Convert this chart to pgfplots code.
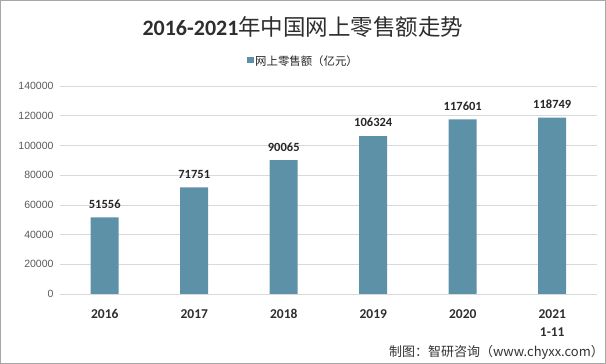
\documentclass[border=0pt]{standalone}
\usepackage{pgfplots}
\pgfplotsset{compat=1.18}
\usepackage{fontspec}
\setmainfont{Liberation Sans}
\newfontfamily\cjk{Noto Sans CJK SC}
\newfontfamily\carl{Carlito}
\definecolor{barc}{RGB}{93,145,167}
\definecolor{gridc}{RGB}{217,217,217}
\definecolor{tickc}{RGB}{89,89,89}
\begin{document}
\begin{tikzpicture}
\useasboundingbox (0pt,0pt) rectangle (606pt,364pt);
\draw[draw=gray!70,line width=1pt] (0.5pt,0.5pt) rectangle (605.5pt,363.5pt);
\node[text=black!82,inner sep=0pt] at (303pt,337pt) {\carl\bfseries\fontsize{22}{24}\selectfont 2016-2021\cjk\mdseries\fontsize{22.5}{24}\selectfont 年中国网上零售额走势};
\fill[barc] (247pt,301pt) rectangle (254pt,307pt);
\node[anchor=west,font=\cjk\fontsize{11.4}{12}\selectfont,text=black!85,inner sep=0pt] at (255pt,303pt) {网上零售额（亿元）};
\node[anchor=east,font=\cjk\fontsize{13}{14}\selectfont,text=black!80,inner sep=0pt] at (604pt,12pt) {制图：智研咨询（www.chyxx.com）};
\begin{axis}[
  at={(60pt,70pt)}, anchor=south west,
  scale only axis, width=537pt, height=208pt,
  xmin=-0.5, xmax=5.5, ymin=0, ymax=140000,
  ytick={0,20000,...,140000},
  scaled y ticks=false,
  yticklabel style={/pgf/number format/fixed,/pgf/number format/1000 sep={},font=\fontsize{10.5}{12}\selectfont,text=tickc,xshift=-3pt},
  /pgf/number format/assume math mode=true,
  xtick=data,
  xticklabels={2016,2017,2018,2019,2020,{2021\\1-11}},
  xticklabel style={font=\carl\bfseries\fontsize{13.5}{18}\selectfont,text=black!82,align=center,anchor=north,yshift=-12pt},
  ymajorgrids, grid style={gridc,line width=0.7pt},
  axis line style={draw=none},
  axis x line*=bottom,
  x axis line style={draw=gridc,line width=0.7pt},
  major tick length=0pt,
  tick style={draw=none},
  ybar, bar width=28pt,
  nodes near coords,
  nodes near coords style={font=\carl\bfseries\fontsize{12.5}{14}\selectfont,text=black!85,/pgf/number format/fixed,/pgf/number format/1000 sep={},yshift=5.5pt},
]
\addplot[fill=barc,draw=none] coordinates {(0,51556) (1,71751) (2,90065) (3,106324) (4,117601) (5,118749)};
\end{axis}
\end{tikzpicture}
\end{document}
